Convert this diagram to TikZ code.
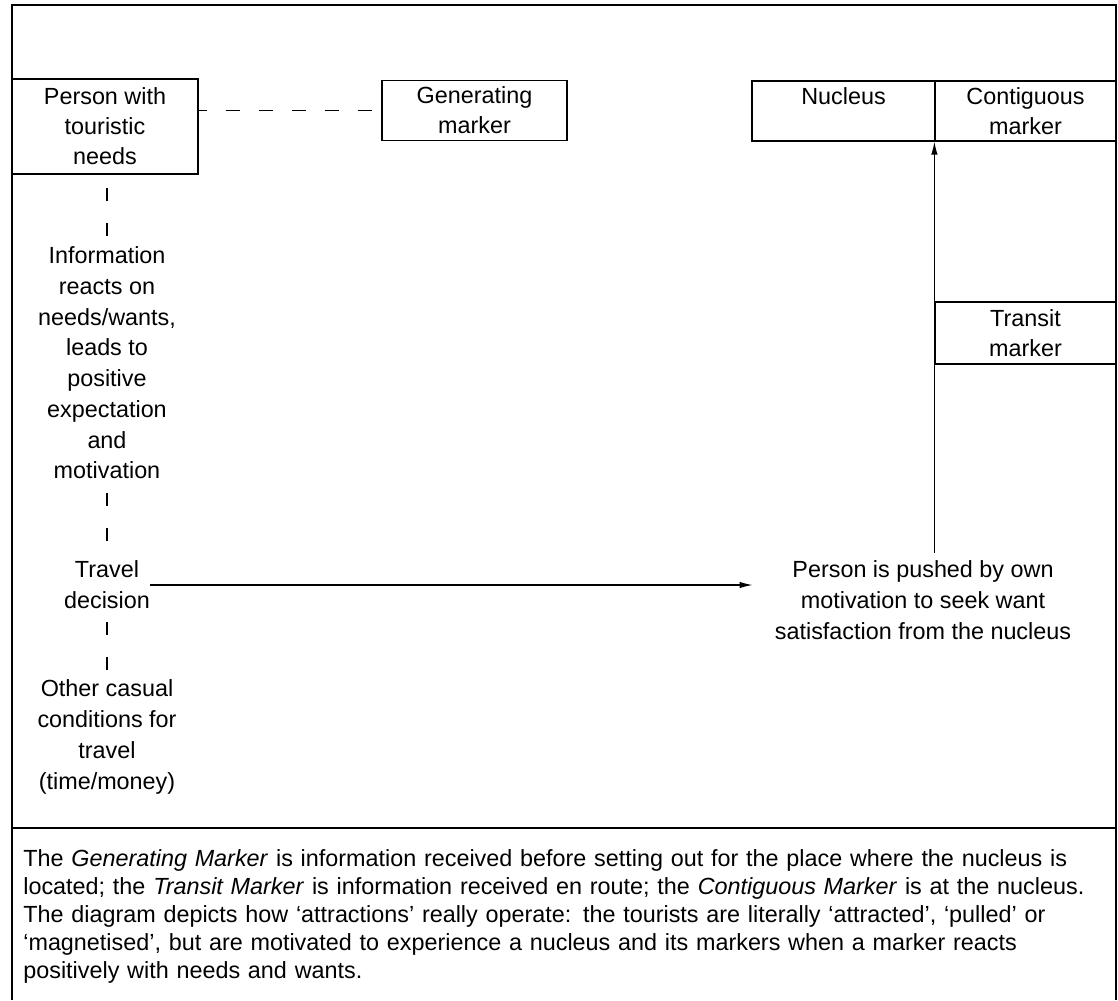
\documentclass[tikz,border=0pt]{standalone}
\usepackage{fontspec}
\setmainfont{Liberation Sans}
\usetikzlibrary{arrows.meta, positioning}

\tikzset{
  box/.style={draw, line width=0.7pt, align=center, inner sep=0pt, font=\fontsize{13.3}{17}\selectfont},
  txt/.style={align=center, inner xsep=0pt, inner ysep=0pt, font=\fontsize{13.3}{17.5}\selectfont},
  vlink/.style={line width=0.7pt, dash pattern=on 0.26cm off 0.44cm, dash phase=0.44cm},
  hlink/.style={line width=0.7pt, dash pattern=on 0.28cm off 0.38cm, dash phase=0.12cm},
  push/.style={line width=0.7pt, -{Latex[length=2.6mm, width=1.3mm]}},
}

\begin{document}
\begin{tikzpicture}[x=0.02cm, y=-0.02cm]
\useasboundingbox (0,0) rectangle (1118,1000);
\draw[line width=0.8pt] (12,1000) -- (12,5) -- (1116,5) -- (1116,1000);
\draw[line width=0.8pt] (12,828) -- (1116,828);

\node[box, minimum width=3.72cm, minimum height=1.9cm] (person) at (105,126.5) {Person with\\touristic\\needs};
\node[box, minimum width=3.7cm, minimum height=1.2cm] (gen) at (474.5,110.5) {Generating\\marker};
\node[box, minimum width=3.66cm, minimum height=1.2cm] (nucleus) at (843.5,111) {Nucleus\\~};
\node[box, minimum width=3.62cm, minimum height=1.2cm] (contig) at (1025.5,111) {Contiguous\\marker};
\node[box, minimum width=3.62cm, minimum height=1.24cm] (transit) at (1025.5,333) {Transit\\marker};

\node[txt] (info) at (107,363) {Information\\reacts on\\needs/wants,\\leads to\\positive\\expectation\\and\\motivation};
\node[txt] (travel) at (107,585) {Travel\\decision};
\node[txt] (other) at (107,737) {Other casual\\conditions for\\travel\\(time/money)};
\node[txt, inner xsep=0.44cm, inner ysep=0.15cm] (pushed) at (923,600) {Person is pushed by own\\motivation to seek want\\satisfaction from the nucleus};

\draw[hlink] (gen.west -| person.east) -- (gen.west);
\draw[vlink] (person.south -| info.north) -- (info.north);
\draw[vlink] (info.south) -- (travel.north);
\draw[vlink] (travel.south) -- (other.north);
\draw[push] (travel.east) -- (travel.east -| pushed.west);
\draw[push] (pushed.north -| transit.west) -- (contig.south west);

\node[anchor=north west, inner sep=0pt, align=left, text width=22cm, font=\fontsize{13.3}{16}\selectfont] (caption) at (23,849) {%
The \textit{Generating Marker} is information received before setting out for the place where the nucleus is\\
located; the \textit{Transit Marker} is information received en route; the \textit{Contiguous Marker} is at the nucleus.\\
The diagram depicts how `attractions' really operate: the tourists are literally `attracted', `pulled' or\\
`magnetised', but are motivated to experience a nucleus and its markers when a marker reacts\\
positively with needs and wants.};
\end{tikzpicture}
\end{document}
